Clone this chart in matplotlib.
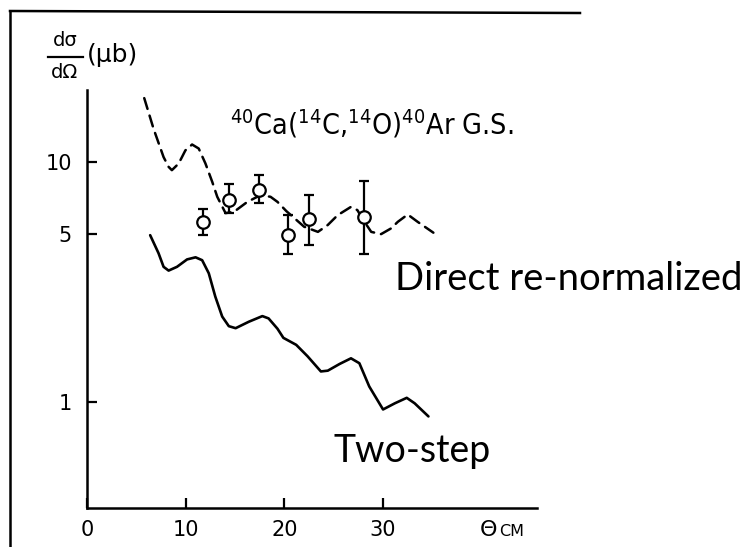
"""
Recreation of a scanned cross-section plot:
40Ca(14C,14O)40Ar G.S., direct (re-normalized) and two-step curves.
"""

import matplotlib
matplotlib.use("Agg")
import matplotlib.pyplot as plt
from matplotlib.lines import Line2D
from matplotlib.ticker import FixedLocator, FixedFormatter, NullLocator

# Direct re-normalized calculation (dashed)
direct_theta = [5.8, 6.74, 7.76, 8.27, 8.6, 9.29, 9.97, 10.65, 11.32, 12.0,
                12.69, 13.2, 14.04, 14.9, 16.25, 17.6, 18.6, 19.3, 20.2,
                22.0, 23.4, 24.4, 25.4, 26.75, 27.4, 27.9, 28.8, 29.8, 30.8,
                31.5, 32.5, 33.5, 35.1]
direct_xs = [18.5, 13.8, 10.5, 9.56, 9.26, 9.87, 11.2, 11.85, 11.4, 9.88,
             8.28, 7.17, 6.13, 6.21, 6.83, 7.29, 7.17, 6.83, 6.25,
             5.38, 5.12, 5.47, 6.01, 6.51, 6.31, 5.82, 5.12, 5.01, 5.29,
             5.64, 6.05, 5.64, 5.08]

# Two-step calculation (solid)
twostep_theta = [6.4, 7.25, 7.76, 8.27, 9.12, 10.14, 11.0, 11.67, 12.34,
                 13.0, 13.7, 14.37, 15.06, 16.4, 17.77, 18.4, 19.3, 19.9,
                 21.2, 22.35, 23.7, 24.4, 25.6, 26.75, 27.6, 28.6, 30.0,
                 31.2, 32.4, 33.2, 34.6]
twostep_xs = [4.96, 4.17, 3.66, 3.53, 3.66, 3.93, 4.01, 3.9, 3.44,
              2.75, 2.27, 2.07, 2.03, 2.16, 2.28, 2.23, 2.02, 1.85,
              1.73, 1.55, 1.34, 1.35, 1.44, 1.52, 1.45, 1.16, 0.93,
              0.987, 1.04, 0.987, 0.87]

# Measured points with error bars
data_theta = [11.8, 14.4, 17.4, 20.35, 22.5, 28.1]
data_xs = [5.62, 6.95, 7.64, 4.96, 5.79, 5.90]
data_low = [4.96, 6.13, 6.75, 4.14, 4.51, 4.14]
data_high = [6.37, 8.09, 8.83, 6.01, 7.29, 8.34]

y_ticks = [1, 5, 10]
y_tick_labels = ["1", "5", "10"]
x_ticks = [0, 10, 20, 30]
x_tick_labels = ["0", "10", "20", "30"]

W, H = 747, 547


def fx(px):
    return px / W


def fy(py):
    return 1 - py / H


plt.rcParams["mathtext.fontset"] = "custom"
plt.rcParams["mathtext.rm"] = "DejaVu Sans:stretch=condensed"
plt.rcParams["mathtext.it"] = "DejaVu Sans:italic:stretch=condensed"
plt.rcParams["mathtext.bf"] = "DejaVu Sans:bold:stretch=condensed"

fig = plt.figure(figsize=(W / 100, H / 100), dpi=100)
ax = fig.add_axes([fx(87), fy(508), fx(537) - fx(87), fy(90) - fy(508)])

ax.plot(direct_theta, direct_xs, color="black", linewidth=1.8,
        linestyle=(0, (4.5, 2.8)), dash_capstyle="round")
ax.plot(twostep_theta, twostep_xs, color="black", linewidth=1.9,
        solid_joinstyle="round", solid_capstyle="round")

yerr = [[v - lo for v, lo in zip(data_xs, data_low)],
        [hi - v for v, hi in zip(data_xs, data_high)]]
ax.errorbar(data_theta, data_xs, yerr=yerr, fmt="o", color="black",
            markerfacecolor="white", markeredgecolor="black",
            markersize=9, markeredgewidth=1.6, elinewidth=1.6,
            capsize=3.5, capthick=1.6, zorder=3)

ax.set_yscale("log")
ax.set_xlim(0, 45.6)
ax.set_ylim(0.361, 20)

ax.yaxis.set_major_locator(FixedLocator(y_ticks))
ax.yaxis.set_major_formatter(FixedFormatter(y_tick_labels))
ax.yaxis.set_minor_locator(NullLocator())
ax.xaxis.set_major_locator(FixedLocator(x_ticks))
ax.xaxis.set_major_formatter(FixedFormatter(x_tick_labels))

ax.tick_params(direction="in", length=7, width=1.6, labelsize=15)
ax.tick_params(axis="y", pad=11)
ax.tick_params(axis="x", pad=9)

for side in ["top", "right"]:
    ax.spines[side].set_visible(False)
for side in ["left", "bottom"]:
    ax.spines[side].set_linewidth(1.8)

# outer frame of the scanned figure
fig.add_artist(Line2D([fx(10), fx(10)], [fy(11), fy(547)],
                      color="black", linewidth=1.8))
fig.add_artist(Line2D([fx(10), fx(580)], [fy(11), fy(13)],
                      color="black", linewidth=1.8))

# y label: d sigma / d Omega (mu b)
fig.text(fx(65), fy(41), "dσ", fontsize=14, ha="center", va="center")
fig.add_artist(Line2D([fx(48), fx(83)], [fy(57), fy(57)],
                      color="black", linewidth=1.6))
fig.text(fx(65), fy(72), "dΩ", fontsize=14, ha="center", va="center")
fig.text(fx(87), fy(55), "(μb)", fontsize=18, ha="left", va="center")

# x label
fig.text(fx(480), fy(536), "Θ", fontsize=16, ha="left", va="baseline")
fig.text(fx(499), fy(536), "CM", fontsize=11.5, ha="left", va="baseline")

# reaction label
fig.text(fx(230), fy(134),
         r"$^{40}$Ca($^{14}$C,$^{14}$O)$^{40}$Ar G.S.",
         fontsize=20.5, fontstretch="condensed",
         ha="left", va="baseline")

# curve annotations
fig.text(fx(395), fy(290), "Direct re-normalized", fontsize=27.5,
         family="Lato", ha="left", va="baseline")
fig.text(fx(333), fy(462), "Two-step", fontsize=27,
         family="Lato", ha="left", va="baseline")

fig.savefig("out.png", dpi=100)
